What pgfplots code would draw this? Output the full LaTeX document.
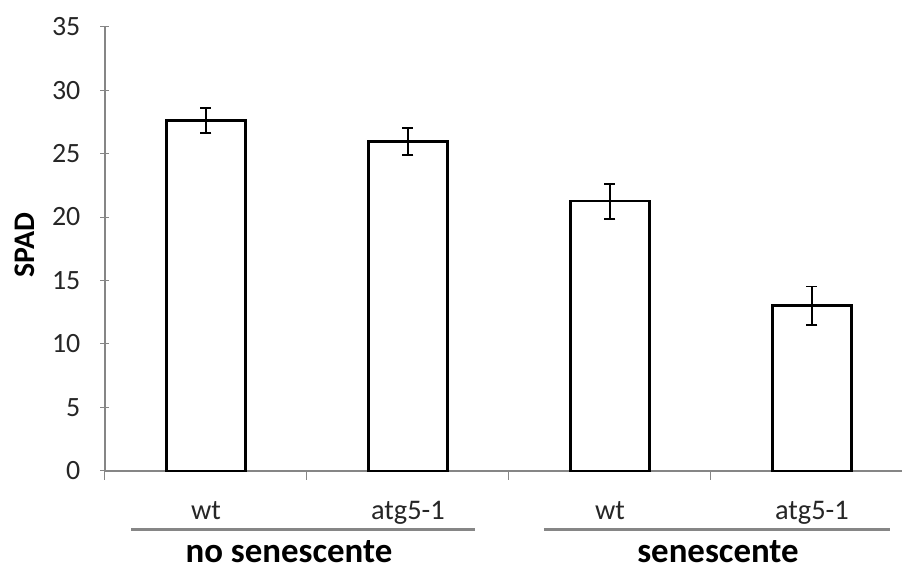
\documentclass[border=0pt]{standalone}
\usepackage{fontspec}
\setmainfont{Carlito}
\usepackage{pgfplots}
\pgfplotsset{compat=1.18}
\definecolor{axgray}{HTML}{868686}
\definecolor{txt}{HTML}{262626}
\begin{document}
\begin{tikzpicture}
\begin{axis}[
  at={(0,0)}, anchor=south west,
  scale only axis,
  width=797bp, height=444.3bp,
  xmin=-0.5, xmax=3.446,
  ymin=0, ymax=35,
  ytick={0,5,...,35},
  xtick={0,1,2,3},
  xticklabels={wt, atg5-1, wt, atg5-1},
  minor xtick={-0.5,0.5,1.5,2.5},
  xtick style={draw=none},
  minor x tick style={draw=axgray, line width=1bp},
  y tick style={draw=axgray, line width=1bp},
  major tick length=9bp, minor tick length=9bp,
  tick align=outside,
  axis x line=bottom, axis y line=left,
  axis line style={-, draw=axgray, line width=1.2bp},
  /pgf/number format/assume math mode=true,
  ticklabel style={font=\fontsize{28}{33}\selectfont, text=txt, inner sep=0pt},
  yticklabel style={anchor=east, xshift=-20bp},
  xticklabel style={anchor=base, yshift=-40bp, font=\fontsize{28.5}{34}\selectfont},
  ylabel={\bfseries SPAD},
  ylabel style={at={(axis description cs:-0.1004,0.509)}, anchor=center, font=\fontsize{30}{36}\selectfont, text=black},
  clip=false,
  ybar, bar width=78.5bp,
]
\addplot[draw=black, fill=white, line width=2.7bp,
  error bars/.cd, y dir=both, y explicit,
  error bar style={line width=1.8bp, black},
  error mark options={rotate=90, mark size=5.5bp, line width=1.8bp, black}]
  coordinates {
  (0,27.6) +- (0,1.0)
  (1,25.97) +- (0,1.07)
  (2,21.25) +- (0,1.38)
  (3,13.02) +- (0,1.5)
};
\draw[axgray, line width=2.5bp] (axis cs:-0.371,-4.61) -- (axis cs:1.332,-4.61);
\draw[axgray, line width=2.5bp] (axis cs:1.673,-4.61) -- (axis cs:3.386,-4.61);
\node[anchor=base, inner sep=0pt, font=\fontsize{35}{42}\selectfont\bfseries] at (axis cs:0.411,-7.2) {no senescente};
\node[anchor=base, inner sep=0pt, font=\fontsize{35}{42}\selectfont\bfseries] at (axis cs:2.535,-7.2) {senescente};
\end{axis}
\pgfresetboundingbox
\path (-105bp,-101bp) rectangle (797bp,470.9bp);
\end{tikzpicture}
\end{document}
